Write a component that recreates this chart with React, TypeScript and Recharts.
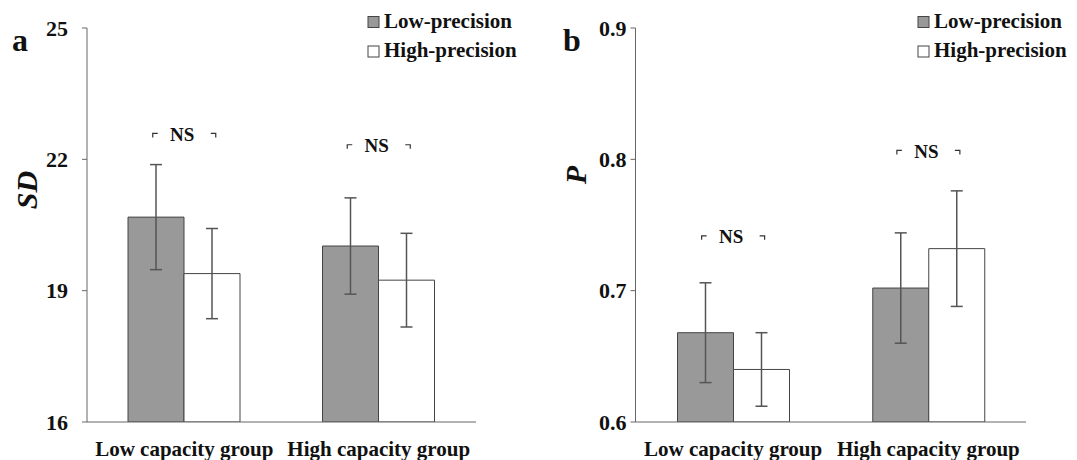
import React from 'react';
import { BarChart, Bar, XAxis, YAxis, ErrorBar, ReferenceDot, Customized } from 'recharts';

const categories = ['Low capacity group', 'High capacity group'];
const seriesNames = ['Low-precision', 'High-precision'];

const sdLow = [20.68, 20.02];
const sdLowErr = [1.2, 1.1];
const sdHigh = [19.39, 19.24];
const sdHighErr = [1.03, 1.07];
const sdTicks = [16, 19, 22, 25];
const sdNS = [22.57, 22.31];

const pLow = [0.668, 0.702];
const pLowErr = [0.038, 0.042];
const pHigh = [0.64, 0.732];
const pHighErr = [0.028, 0.044];
const pTicks = [0.6, 0.7, 0.8, 0.9];
const pNS = [0.741, 0.806];

const FONT = '"Liberation Serif", "Times New Roman", serif';
const GREY = '#999999';
const EDGE = '#454545';
const AXIS = '#666666';

const sdData = categories.map((c, i) => ({ cat: c, low: sdLow[i], lowErr: sdLowErr[i], high: sdHigh[i], highErr: sdHighErr[i] }));
const pData = categories.map((c, i) => ({ cat: c, low: pLow[i], lowErr: pLowErr[i], high: pHigh[i], highErr: pHighErr[i] }));

const NSShape = (props: any) => {
  const { cx, cy } = props;
  if (cx == null || cy == null) return null;
  return (
    <g>
      <path d={`M${cx - 31.5},${cy + 3} v-4 h5`} stroke="#333" strokeWidth={1.2} fill="none" />
      <path d={`M${cx + 26.5},${cy - 1} h5 v4`} stroke="#333" strokeWidth={1.2} fill="none" />
      <text x={cx - 2} y={cy} textAnchor="middle" dominantBaseline="central" fontFamily={FONT} fontWeight="bold" fontSize={19} fill="#111">NS</text>
    </g>
  );
};

const makeYTick = (gap: number) => (props: any) => {
  const { x, y, payload } = props;
  return (
    <text x={x - gap} y={y} textAnchor="end" dominantBaseline="central" fontFamily={FONT} fontWeight="bold" fontSize={22} fill="#111">
      {String(payload.value)}
    </text>
  );
};

type PanelProps = {
  data: any[];
  width: number;
  left: number;
  marginLeft: number;
  marginRight: number;
  ticks: number[];
  tickGap: number;
  letter: string;
  letterX: number;
  yLabel: string;
  yLabelX: number;
  yLabelY: number;
  ns: number[];
  legendX: number;
};

const Panel = (p: PanelProps) => {
  const Extras = () => (
    <g>
      <text x={p.letterX} y={51} fontFamily={FONT} fontWeight="bold" fontSize={32} fill="#111">{p.letter}</text>
      <text
        x={p.yLabelX}
        y={p.yLabelY}
        transform={`rotate(-90 ${p.yLabelX} ${p.yLabelY})`}
        textAnchor="middle"
        dominantBaseline="central"
        fontFamily={FONT}
        fontWeight="bold"
        fontStyle="italic"
        fontSize={30}
        fill="#111"
      >
        {p.yLabel}
      </text>
      {seriesNames.map((n, i) => (
        <g key={n}>
          <rect x={p.legendX} y={16.5 + i * 29.5} width={11} height={11} fill={i === 0 ? GREY : '#fff'} stroke={EDGE} strokeWidth={1} />
          <text x={p.legendX + 16} y={27.5 + i * 29.5} fontFamily={FONT} fontWeight="bold" fontSize={21} fill="#111">{n}</text>
        </g>
      ))}
    </g>
  );
  return (
    <div style={{ position: 'absolute', left: p.left, top: 0 }}>
      <BarChart
        width={p.width}
        height={460}
        data={p.data}
        margin={{ top: 28, right: p.marginRight, bottom: 8, left: p.marginLeft }}
        barGap={0}
        barSize={56}
      >
        <XAxis
          dataKey="cat"
          tickLine={false}
          tickSize={6}
          tickMargin={13}
          height={30}
          stroke={AXIS}
          interval={0}
          tick={{ fill: '#111', fontSize: 21, fontWeight: 'bold', fontFamily: FONT }}
        />
        <YAxis
          width={70}
          domain={[p.ticks[0], p.ticks[p.ticks.length - 1]]}
          ticks={p.ticks}
          tickSize={5}
          stroke={AXIS}
          tick={makeYTick(p.tickGap)}
          allowDataOverflow
        />
        <Bar dataKey="low" name={seriesNames[0]} fill={GREY} stroke={EDGE} strokeWidth={1} isAnimationActive={false}>
          <ErrorBar dataKey="lowErr" width={6} stroke="#555" strokeWidth={1.5} />
        </Bar>
        <Bar dataKey="high" name={seriesNames[1]} fill="#ffffff" stroke={EDGE} strokeWidth={1} isAnimationActive={false}>
          <ErrorBar dataKey="highErr" width={6} stroke="#555" strokeWidth={1.5} />
        </Bar>
        {categories.map((c, i) => (
          <ReferenceDot key={c} x={c} y={p.ns[i]} r={0} ifOverflow="visible" shape={NSShape} />
        ))}
        <Customized component={Extras} />
      </BarChart>
    </div>
  );
}

export default function App() {
  return (
    <div style={{ position: 'absolute', left: 0, top: 0, width: 1077, height: 460, background: '#fff', fontFamily: FONT }}>
      <Panel
        data={sdData}
        width={540}
        left={0}
        marginLeft={17}
        marginRight={64}
        ticks={sdTicks}
        tickGap={12}
        letter="a"
        letterX={12}
        yLabel="SD"
        yLabelX={26}
        yLabelY={190}
        ns={sdNS}
        legendX={368}
      />
      <Panel
        data={pData}
        width={537}
        left={540}
        marginLeft={25.5}
        marginRight={51}
        ticks={pTicks}
        tickGap={2}
        letter="b"
        letterX={23}
        yLabel="P"
        yLabelX={35}
        yLabelY={175}
        ns={pNS}
        legendX={378}
      />
    </div>
  );
}
